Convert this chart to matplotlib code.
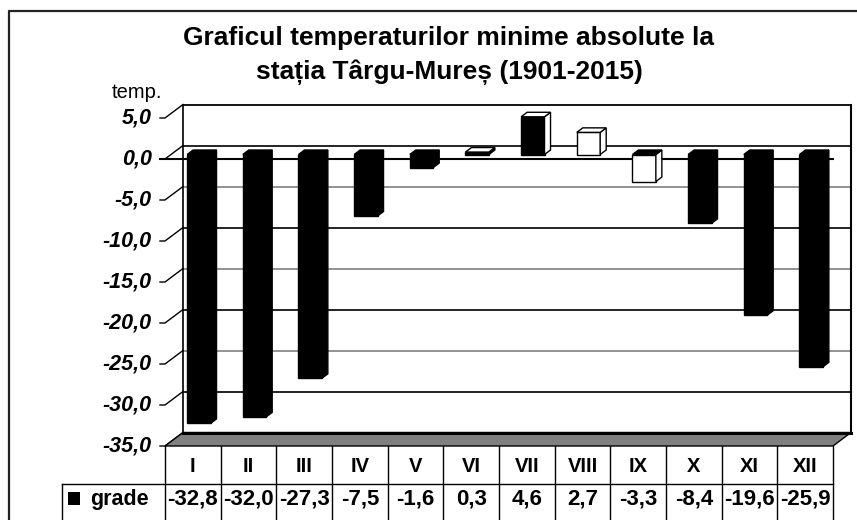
import matplotlib
matplotlib.use("Agg")
import matplotlib.pyplot as plt
from matplotlib.patches import Polygon, Rectangle

plt.rcParams['font.family'] = ['Liberation Sans', 'DejaVu Sans']

# ---- data ----
months = ["I", "II", "III", "IV", "V", "VI", "VII", "VIII", "IX", "X", "XI", "XII"]
grade = [-32.8, -32.0, -27.3, -7.5, -1.6, 0.3, 4.6, 2.7, -3.3, -8.4, -19.6, -25.9]
series_name = "grade"
yticks = [5, 0, -5, -10, -15, -20, -25, -30, -35]
title_lines = ["Graficul temperaturilor minime absolute la",
               "stația Târgu-Mureș (1901-2015)"]
ylabel = "temp."

# face colours (front, side, top) as rendered in the original
front_c = ['k'] * 5 + ['k', 'k', 'w', 'w'] + ['k'] * 3
side_c = ['k'] * 5 + ['k', 'w', 'w', 'w'] + ['k'] * 3
top_c = ['k'] * 5 + ['w', 'w', 'w', 'k'] + ['k'] * 3

W, H = 857, 520
fig = plt.figure(figsize=(W / 100, H / 100), dpi=100)
fig.patch.set_facecolor('white')

# pixel canvas for frame, title, table
cv = fig.add_axes([0, 0, 1, 1])
cv.set_xlim(0, W)
cv.set_ylim(H, 0)
cv.axis('off')

# plot area (front plane)
L, R, T, B = 165, 833, 118, 446
ax = fig.add_axes([L / W, 1 - B / H, (R - L) / W, (B - T) / H])
n = len(months)
ymin, ymax = -35, 5
ax.set_xlim(-0.5, n - 0.5)
ax.set_ylim(ymin, ymax)
ax.axis('off')
ax.patch.set_alpha(0)

pxc = (R - L) / n
pxu = (B - T) / (ymax - ymin)
DX = 18 / pxc
DY = 13.5 / pxu

x0, x1 = -0.5, n - 0.5
# back wall
ax.add_patch(Polygon([(x0 + DX, ymin + DY), (x1 + DX, ymin + DY), (x1 + DX, ymax + DY),
                      (x0 + DX, ymax + DY)], closed=True, fc='white', ec='none',
                     clip_on=False, zorder=1))
for v in yticks:
    col = 'black' if v % 10 == 0 else '#808080'
    ax.plot([x0 + DX, x1 + DX], [v + DY, v + DY], color=col, lw=1.2, clip_on=False, zorder=2)
    # side wall diagonal + tick
    ax.plot([x0 - 0.09, x0, x0 + DX], [v, v, v + DY], color='black', lw=1.0,
            clip_on=False, zorder=2)
    ax.text(x0 - 0.24, v, f"{v:.1f}".replace('.', ','), ha='right', va='center',
            fontsize=15.5, fontweight='bold', fontstyle='italic', clip_on=False)
ax.plot([x0 + DX, x0 + DX], [ymin + DY, ymax + DY], color='black', lw=1.2, clip_on=False, zorder=2)
ax.plot([x1 + DX, x1 + DX], [ymin + DY, ymax + DY], color='black', lw=1.5, clip_on=False, zorder=2)
ax.plot([x0 + DX, x1 + DX], [ymax + DY, ymax + DY], color='black', lw=1.2, clip_on=False, zorder=2)

# floor
ax.add_patch(Polygon([(x0, ymin), (x1, ymin), (x1 + DX, ymin + DY), (x0 + DX, ymin + DY)],
                     closed=True, fc='#808080', ec='black', lw=1.0, clip_on=False, zorder=3))
ax.plot([x0 + DX, x1 + DX], [ymin + DY, ymin + DY], color='black', lw=2.2, clip_on=False, zorder=3)

# front zero line
ax.plot([x0 - 0.09, x1], [0, 0], color='black', lw=1.5, clip_on=False, zorder=4)

# bars
f1, f2 = 1 / 3, 2 / 3
bw = 0.42
xs = list(range(n))
bars = ax.bar([x + f1 * DX for x in xs], grade, bottom=f1 * DY, width=bw, color=front_c,
              edgecolor='black', linewidth=1.0, zorder=5)
for b in bars:
    b.set_clip_on(False)
for i, v in enumerate(grade):
    xr = i + bw / 2
    xl = i - bw / 2
    ax.add_patch(Polygon([(xr + f1 * DX, f1 * DY), (xr + f1 * DX, v + f1 * DY),
                          (xr + f2 * DX, v + f2 * DY), (xr + f2 * DX, f2 * DY)],
                         closed=True, fc=side_c[i], ec='black', lw=1.0, zorder=5,
                         clip_on=False))
    top = max(v, 0)
    ax.add_patch(Polygon([(xl + f1 * DX, top + f1 * DY), (xr + f1 * DX, top + f1 * DY),
                          (xr + f2 * DX, top + f2 * DY), (xl + f2 * DX, top + f2 * DY)],
                         closed=True, fc=top_c[i], ec='black', lw=1.0, zorder=6,
                         clip_on=False))

# y label
cv.text(162, 93, ylabel, ha='right', va='center', fontsize=14.5)

# title
cv.text(449, 38, title_lines[0], ha='center', va='center', fontsize=19, fontweight='bold')
cv.text(449, 72, title_lines[1], ha='center', va='center', fontsize=19, fontweight='bold')

# outer frame
cv.plot([9, 9, W], [H, 11, 11], color='#222222', lw=1.6)

# data table
row1_top, row1_bot, row2_bot = 446, 484, 520
leg_left = 62
for k in range(n + 1):
    xk = L + k * pxc
    cv.plot([xk, xk], [row1_top, row2_bot], color='black', lw=1.0)
cv.plot([leg_left, R], [row1_bot, row1_bot], color='black', lw=1.0)
cv.plot([leg_left, leg_left], [row1_bot, row2_bot], color='black', lw=1.0)
for k, (m, v) in enumerate(zip(months, grade)):
    xc = L + (k + 0.5) * pxc
    cv.text(xc, 466, m, ha='center', va='center', fontsize=14.5, fontweight='bold')
    cv.text(xc, 499, f"{v:.1f}".replace('.', ','), ha='center', va='center',
            fontsize=16, fontweight='bold')
cv.add_patch(Rectangle((68, 492), 12, 13, fc='black', ec='none'))
cv.text(90, 499, series_name, ha='left', va='center', fontsize=15.5, fontweight='bold')

fig.savefig("out.png", dpi=100)
